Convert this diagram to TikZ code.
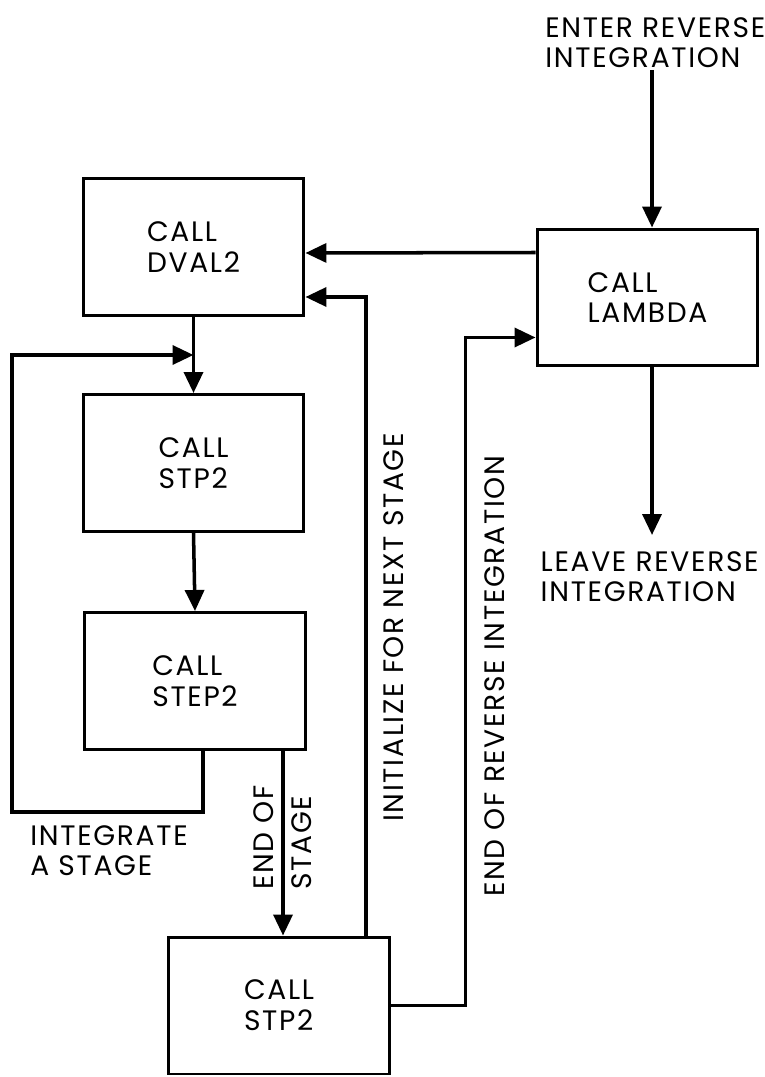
\documentclass[tikz,border=0pt]{standalone}
\usepackage{fontspec}
\setmainfont[LetterSpace=6]{Poppins}
\usetikzlibrary{arrows.meta, calc}
\tikzset{
    bloco/.style={draw=black, line width=1.7pt, minimum width=4.42cm, minimum height=2.74cm, align=left, inner sep=0pt, font=\fontsize{16}{17.5}\selectfont},
    fluxo/.style={line width=2pt, -{Triangle[length=0.42cm, width=0.38cm]}},
    linha/.style={line width=2pt},
    rotulo/.style={font=\fontsize{16}{17.5}\selectfont, align=left, inner sep=0pt}
}
\begin{document}
\begin{tikzpicture}[x=0.02cm, y=-0.02cm]
    \useasboundingbox (0,0) rectangle (764,1077);
    % caixas
    \node[bloco] (dval) at (193.5,247) {CALL\\DVAL2};
    \node[bloco] (lambda) at (647.5,297.5) {CALL\\LAMBDA};
    \node[bloco] (stpa) at (193.5,463) {CALL\\STP2};
    \node[bloco] (step) at (195,681) {CALL\\STEP2};
    \node[bloco] (stpb) at (279,1005.5) {CALL\\STP2};
    % textos
    \node[rotulo, anchor=north west] (txtentra) at (545,17) {ENTER REVERSE\\INTEGRATION};
    \node[rotulo, anchor=north east] (txtsai) at (759,551) {LEAVE REVERSE\\INTEGRATION};
    \node[rotulo, anchor=north west] (txtloop) at (30,825) {INTEGRATE\\A STAGE};
    \node[rotulo, rotate=90, anchor=west] (txtfim) at (283,890) {END OF\\[4pt]STAGE};
    \node[rotulo, rotate=90, anchor=west] (txtinit) at (394,822) {INITIALIZE FOR NEXT STAGE};
    \node[rotulo, rotate=90, anchor=west] (txtrev) at (495,897) {END OF REVERSE INTEGRATION};
    % pontos livres
    \coordinate (entra) at (652,70);
    \coordinate (sai) at (652,535);
    \coordinate (volta) at (12,812);
    \coordinate (meio) at ($(dval.south)!0.5!(stpa.north)$);
    \coordinate (fim) at ($(step.south)+(88,0)$);
    % setas
    \draw[fluxo] (entra) -- (entra |- lambda.north);
    \draw[fluxo] (sai |- lambda.south) -- (sai);
    \draw[fluxo] ($(lambda.west)+(0,-45)$) -- ($(dval.east)+(0,6)$);
    \draw[fluxo] ($(stpb.north east)+(-25,0)$) |- ($(dval.east)+(0,50)$);
    \draw[fluxo] (stpb.east) -| ($(lambda.west)+(-70,40)$) -- ($(lambda.west)+(0,40)$);
    \draw[fluxo] (dval.south) -- (stpa.north);
    \draw[fluxo] (stpa.south) -- (step.north);
    \draw[fluxo] ($(step.south)+(8,0)$) |- (volta) |- (meio);
    \draw[fluxo] (fim) -- (fim |- stpb.north);
\end{tikzpicture}
\end{document}
